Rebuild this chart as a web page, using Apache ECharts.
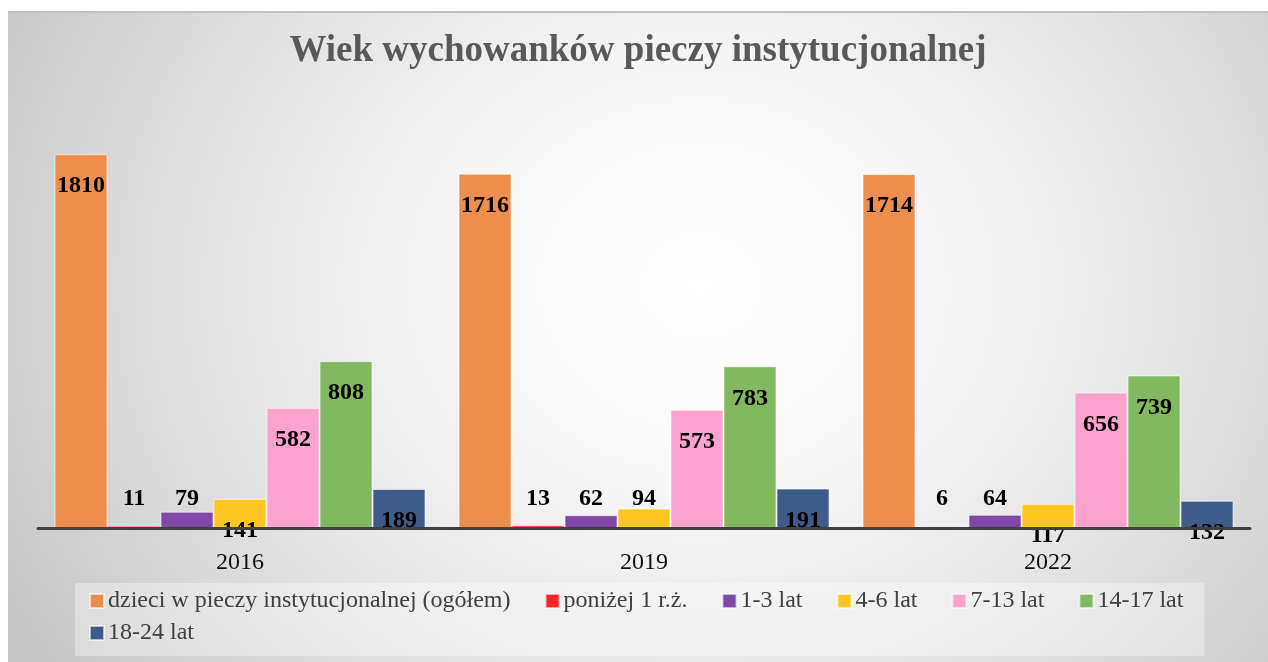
<!DOCTYPE html>
<html lang="pl">
<head>
    <meta charset="UTF-8">
    <title>Wiek wychowanków pieczy instytucjonalnej</title>
    <script src="https://cdn.jsdelivr.net/npm/echarts@6/dist/echarts.min.js"></script>
    <style>
        body { margin: 0; background: #ffffff; }
        #box {
            position: absolute; left: 8px; top: 11px; width: 1260px; height: 649px;
            border-top: 2px solid #c0c0c0;
            background: radial-gradient(ellipse 62% 105% at 55% 42%, #ffffff 0%, #f7f7f7 30%, #e2e2e2 65%, #c6c6c6 100%);
        }
        #main { width: 1260px; height: 649px; }
    </style>
</head>
<body>
<div id="box"><div id="main"></div></div>
<script>
    var years = ['2016', '2019', '2022'];
    var names = ['dzieci w pieczy instytucjonalnej (ogółem)', 'poniżej 1 r.ż.', '1-3 lat', '4-6 lat', '7-13 lat', '14-17 lat', '18-24 lat'];
    var colors = ['#ee8e4e', '#ff2424', '#8049a8', '#fec623', '#fca2cf', '#82b85f', '#3f5b8a'];
    var ogolem = [1810, 1716, 1714];
    var ponizej1 = [11, 13, 6];
    var lat1_3 = [79, 62, 64];
    var lat4_6 = [141, 94, 117];
    var lat7_13 = [582, 573, 656];
    var lat14_17 = [808, 783, 739];
    var lat18_24 = [189, 191, 132];
    var values = [ogolem, ponizej1, lat1_3, lat4_6, lat7_13, lat14_17, lat18_24];

    var font = "'Liberation Serif', 'Times New Roman', serif";
    var myChart = echarts.init(document.getElementById('main'));

    // small bars: label sits above the axis, big ones: label inside near the top
    var series = [];
    for (var i = 0; i < names.length; i++) {
        var data = [];
        for (var j = 0; j < values[i].length; j++) {
            var v = values[i][j];
            data.push({
                value: v,
                label: v < 100 ? {position: 'insideBottom', distance: 17} : {position: 'insideTop', distance: 20}
            });
        }
        series.push({
            name: names[i],
            type: 'bar',
            barWidth: 53,
            barGap: '0%',
            itemStyle: {color: colors[i], borderColor: 'rgba(255,255,255,0.6)', borderWidth: 1},
            label: {
                show: true,
                color: '#000',
                fontFamily: font,
                fontWeight: 'bold',
                fontSize: 24
            },
            data: data
        });
    }

    var option = {
        title: {
            text: 'Wiek wychowanków pieczy instytucjonalnej',
            left: 'center',
            top: 15,
            textStyle: {fontFamily: font, fontSize: 37, fontWeight: 'bold', color: '#595959'}
        },
        legend: [
            {
                data: names.slice(0, 6),
                left: 67,
                top: 570,
                padding: [6, 21, 43, 14],
                backgroundColor: 'rgba(255,255,255,0.35)',
                itemWidth: 14,
                itemHeight: 14,
                itemGap: 34,
                icon: 'rect',
                textStyle: {fontFamily: font, fontSize: 24, color: '#404040', padding: [0, 0, 0, -1]}
            },
            {
                data: names.slice(6),
                left: 81,
                top: 608,
                padding: 0,
                itemWidth: 14,
                itemHeight: 14,
                icon: 'rect',
                textStyle: {fontFamily: font, fontSize: 24, color: '#404040', padding: [0, 0, 0, -1]}
            }
        ],
        grid: {left: 30, right: 18, top: 102, bottom: 134},
        xAxis: {
            type: 'category',
            data: years,
            z: 3,
            axisLine: {lineStyle: {color: '#404040', width: 3}},
            axisTick: {show: false},
            axisLabel: {fontFamily: font, fontSize: 24, color: '#111', margin: 23}
        },
        yAxis: {
            type: 'value',
            min: 0,
            max: 2000,
            show: false,
            splitLine: {show: false}
        },
        series: series
    };
    myChart.setOption(option);
</script>
</body>
</html>
